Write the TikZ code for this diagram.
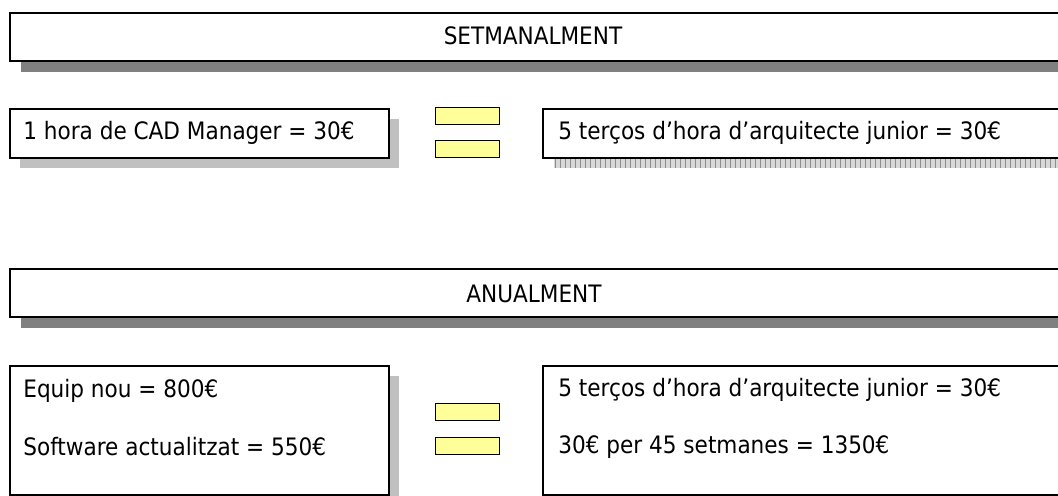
\documentclass[tikz,border=0pt]{standalone}
\usepackage{fontspec}
\setmainfont{DejaVu Sans Condensed}
\usetikzlibrary{shadows,patterns.meta}
\definecolor{ombrafosca}{HTML}{808080}
\definecolor{ombraclara}{HTML}{C0C0C0}
\definecolor{ombratrama}{HTML}{D8D8D8}
\definecolor{grocigual}{HTML}{FFFF99}
\tikzset{
	caixa/.style={draw,line width=0.9pt,fill=white,anchor=north west,inner sep=0pt},
	capcalera/.style={caixa,minimum width=545pt,minimum height=24pt,
		general shadow={fill=ombrafosca,shadow xshift=5.5pt,shadow yshift=-5.5pt}},
	caixaesq/.style={caixa,minimum width=189.5pt,
		general shadow={fill=ombraclara,shadow xshift=5pt,shadow yshift=-5pt}},
	caixadre/.style={caixa,minimum width=280pt,
		general shadow={fill=ombratrama,shadow xshift=5.5pt,shadow yshift=-5pt},
		general shadow={pattern={Lines[angle=90,distance=2.5pt,line width=0.5pt]},pattern color=gray!90,shadow xshift=5.5pt,shadow yshift=-5pt}},
	igual/.style={draw,line width=0.5pt,fill=grocigual,anchor=north west,inner sep=0pt,minimum width=32pt,minimum height=8.5pt},
	textcaixa/.style={inner sep=0pt,anchor=base west},
	titol/.style={inner sep=0pt,anchor=base}
}
\begin{document}
\begin{tikzpicture}[x=0.5pt,y=-0.5pt,font=\fontsize{12}{14}\selectfont]
				\useasboundingbox (0,0) rectangle (1058,496);
				\node[capcalera] (setmana) at (9,12) {};
				\node[titol] (setmanatxt) at (533,45) {SETMANALMENT};
				\node[caixaesq,minimum height=24.5pt] (cad) at (9,108) {};
				\node[textcaixa] (cadtxt) at (23,140) {1 hora de CAD Manager = 30€};
				\node[igual] (igual1a) at (435,107) {};
				\node[igual] (igual1b) at (435,140) {};
				\node[caixadre,minimum height=24.5pt] (arq) at (542,108) {};
				\node[textcaixa] (arqtxt) at (558,140) {5 terços d’hora d’arquitecte junior = 30€};
				\node[capcalera] (any) at (9,268) {};
				\node[titol] (anytxt) at (534,302) {ANUALMENT};
				\node[caixaesq,minimum height=64.5pt] (equip) at (9,365) {};
				\node[textcaixa] (equiptxt) at (23,397) {Equip nou = 800€};
				\node[textcaixa] (softtxt) at (23,455) {Software actualitzat = 550€};
				\node[igual] (igual2a) at (435,403) {};
				\node[igual] (igual2b) at (435,437) {};
				\node[caixadre,minimum height=64.5pt] (arqany) at (542,365) {};
				\node[textcaixa] (arqanytxt) at (558,396) {5 terços d’hora d’arquitecte junior = 30€};
				\node[textcaixa] (setmanestxt) at (558,453) {30€ per 45 setmanes = 1350€};
			\end{tikzpicture}
\end{document}
